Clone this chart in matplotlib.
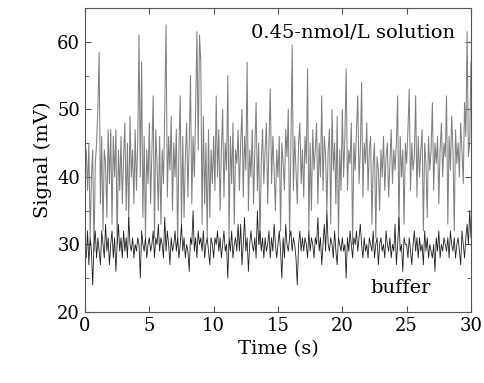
import matplotlib
matplotlib.use('Agg')
import matplotlib.pyplot as plt
import numpy as np
from matplotlib.ticker import MultipleLocator

solution = [
    43, 44, 38, 45, 31, 40, 44, 29, 42, 45,
    50, 58.5, 36, 46, 32, 44, 42, 34, 47, 39,
    47, 33, 46, 40, 47, 30, 44, 38, 46, 36,
    43, 48, 35, 45, 33, 49, 40, 44, 36, 47,
    38, 45, 61, 40, 57, 34, 46, 31, 44, 39,
    48, 36, 44, 52, 31, 47, 42, 35, 46, 33,
    44, 39, 50, 62.5, 37, 46, 41, 49, 35, 45,
    40, 47, 30, 44, 52, 33, 46, 34, 43, 48,
    37, 45, 55, 36, 46, 40, 50, 61.5, 44, 61,
    57, 33, 49, 36, 45, 31, 47, 34, 44, 39,
    46, 38, 52, 40, 47, 35, 44, 50, 37, 45,
    41, 55, 31, 46, 39, 48, 33, 44, 42, 47,
    38, 45, 50, 37, 46, 41, 57, 35, 44, 40,
    47, 36, 44, 51, 38, 45, 30, 42, 47, 39,
    44, 48, 36, 45, 53, 39, 46, 41, 35, 44,
    40, 46, 32, 45, 42, 38, 47, 43, 50, 31,
    44, 59.5, 38, 46, 41, 36, 45, 48, 39, 44,
    37, 46, 42, 56, 32, 45, 35, 47, 41, 44,
    48, 36, 45, 40, 52, 38, 46, 43, 35, 44,
    47, 33, 50, 41, 45, 36, 49, 31, 44, 38,
    50, 40, 46, 56, 38, 44, 42, 48, 30, 45,
    41, 47, 52, 39, 44, 54, 37, 45, 42, 48,
    38, 44, 46, 33, 42, 45, 31, 43, 41, 35,
    44, 40, 46, 38, 43, 45, 37, 42, 47, 39,
    44, 41, 45, 52, 32, 46, 40, 44, 33, 45,
    42, 47, 53, 38, 45, 41, 43, 52, 37, 46,
    40, 44, 47, 32, 45, 42, 34, 46, 41, 44,
    51, 38, 45, 42, 46, 36, 44, 48, 40, 45,
    43, 52, 33, 46, 41, 49, 44, 32, 47, 42,
    45, 40, 48, 44, 39, 51, 46, 61.5, 43, 45,
    57,
]

buffer = [
    30, 28, 32, 27, 31, 29, 24, 30, 32, 28,
    31, 29, 27, 32, 30, 28, 33, 29, 31, 27,
    30, 32, 28, 31, 26, 30, 33, 29, 31, 28,
    32, 29, 31, 28, 34, 30, 29, 31, 28, 30,
    29, 31, 30, 25, 32, 30, 29, 31, 28, 30,
    31, 29, 30, 32, 28, 31, 30, 33, 29, 31,
    30, 28, 34, 29, 32, 30, 27, 31, 29, 30,
    32, 29, 31, 28, 30, 33, 29, 31, 28, 30,
    29, 26, 31, 30, 35, 29, 31, 28, 32, 30,
    31, 29, 32, 28, 30, 31, 29, 27, 31, 30,
    28, 31, 30, 32, 29, 31, 28, 30, 32, 29,
    30, 25, 31, 29, 32, 28, 30, 31, 29, 33,
    29, 33, 27, 30, 34, 29, 31, 26, 30, 32,
    30, 29, 31, 28, 35, 30, 32, 29, 31, 28,
    31, 29, 30, 32, 28, 31, 29, 33, 30, 28,
    30, 32, 29, 25, 31, 28, 33, 30, 29, 31,
    32, 29, 31, 30, 28, 24, 30, 32, 29, 31,
    29, 31, 30, 28, 32, 29, 31, 30, 28, 31,
    30, 34, 29, 31, 27, 30, 33, 29, 35, 30,
    29, 31, 30, 28, 32, 29, 27, 31, 30, 29,
    31, 29, 30, 25, 31, 29, 32, 30, 28, 31,
    30, 32, 29, 31, 33, 30, 28, 31, 29, 30,
    28, 31, 30, 29, 32, 28, 30, 31, 27, 30,
    31, 29, 30, 28, 32, 30, 29, 31, 28, 30,
    29, 33, 27, 30, 34, 29, 30, 26, 31, 30,
    30, 28, 31, 29, 27, 30, 32, 29, 31, 28,
    31, 29, 30, 27, 32, 29, 31, 28, 30, 29,
    28, 30, 26, 31, 29, 32, 28, 30, 29, 31,
    30, 29, 31, 28, 32, 30, 29, 31, 28, 30,
    31, 29, 27, 32, 30, 28, 31, 33, 30, 35,
    31,
]

t = np.arange(len(solution)) * 0.1

plt.rcParams['font.family'] = ['DejaVu Serif']
fig = plt.figure(figsize=(4.84, 3.83), dpi=100)
ax = fig.add_axes([0.1756, 0.1854, 0.7975, 0.7936])

ax.plot(t, solution, color='#808080', lw=0.75)
ax.plot(t, buffer, color='#202020', lw=0.6)

ax.set_xlim(0, 30)
ax.set_ylim(20, 65)
ax.xaxis.set_major_locator(MultipleLocator(5))
ax.yaxis.set_major_locator(MultipleLocator(10))
ax.yaxis.set_minor_locator(MultipleLocator(5))
ax.tick_params(which='both', direction='in', top=True, right=True, labelsize=13, color='#555555')
ax.tick_params(which='major', length=4)
ax.tick_params(which='minor', length=3)
for s in ax.spines.values():
    s.set_color('#555555')

ax.set_xlabel('Time (s)', fontsize=14)
ax.set_ylabel('Signal (mV)', fontsize=14)

ax.text(0.96, 0.92, '0.45-nmol/L solution', transform=ax.transAxes, ha='right', va='center', fontsize=14)
ax.text(0.895, 0.08, 'buffer', transform=ax.transAxes, ha='right', va='center', fontsize=14)

fig.savefig('out.png', dpi=100)
